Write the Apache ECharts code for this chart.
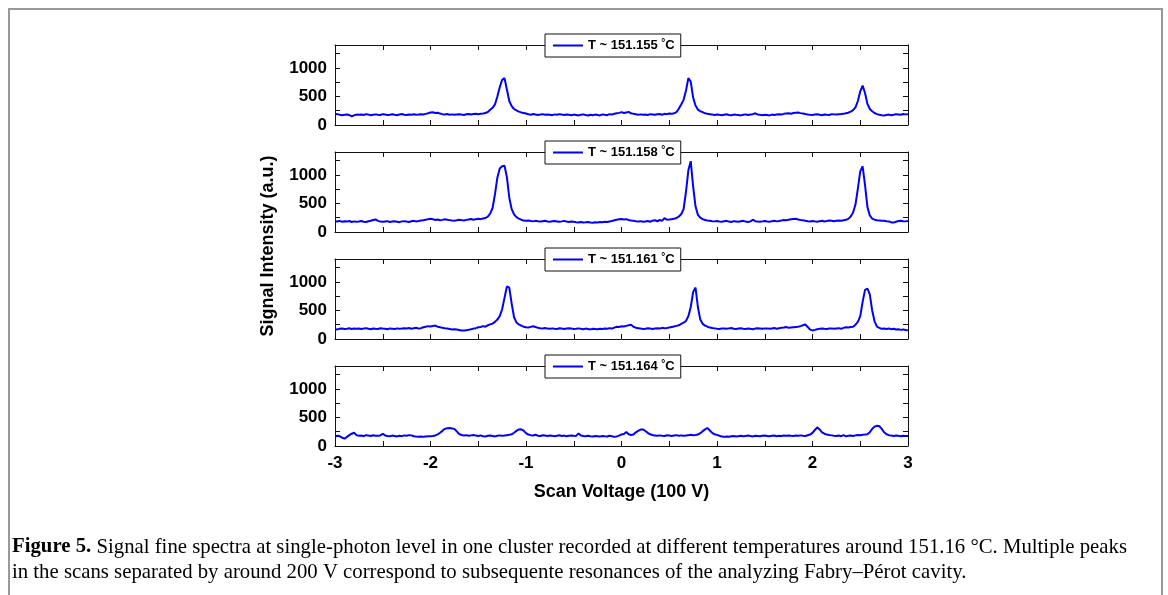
<!DOCTYPE html>
<html><head><meta charset="utf-8">
<script src="https://cdn.jsdelivr.net/npm/echarts@6/dist/echarts.min.js"></script>
<style>html,body{margin:0;padding:0;background:#fff}#c{width:1168px;height:595px}</style>
</head><body><div id="c"></div>
<script>
// ---- data ----
const seriesNames = ['T ~ 151.155 °C', 'T ~ 151.158 °C', 'T ~ 151.161 °C', 'T ~ 151.164 °C'];
const xTickLabels = [-3, -2, -1, 0, 1, 2, 3];
const yTickLabels = [0, 500, 1000];
const scanStart = -3, scanStep = 0.025;   // sampling grid of the scan (241 points, -3 .. 3)

const sig155 = [
195,190,180,172,178,185,175,150,170,182,
178,185,176,190,182,170,178,186,180,175,
190,182,175,180,188,178,172,185,192,180,
176,185,180,188,178,182,190,185,195,205,
218,222,210,215,200,190,185,192,180,186,
178,184,190,182,176,188,194,185,192,198,
190,196,200,210,228,265,300,360,500,660,
790,820,620,420,330,280,255,235,220,210,
200,188,180,192,185,176,182,190,178,185,
180,172,186,178,190,182,175,185,178,170,
182,176,168,180,186,174,165,178,170,182,
175,168,185,178,172,190,182,196,205,212,
225,210,220,230,205,195,188,180,186,178,
182,175,190,185,178,188,192,180,195,190,
200,195,205,225,285,360,440,600,820,760,
480,340,270,240,225,205,195,190,182,176,
185,178,172,180,188,176,170,182,178,175,
168,180,186,174,182,190,205,185,178,172,
180,175,168,182,176,185,190,182,195,200,
205,198,210,215,218,208,200,192,185,180,
176,182,188,178,172,185,180,176,190,186,
182,190,192,195,205,215,235,260,310,420,
590,690,560,370,280,240,210,190,178,172,
168,175,182,170,178,190,185,180,192,186,190];

const sig158 = [
190,185,195,178,188,182,192,176,186,180,
185,192,180,175,188,196,210,220,195,182,
178,185,190,176,182,188,180,172,186,190,
182,176,188,195,185,192,200,205,215,225,
232,225,210,218,205,212,222,215,208,200,
198,205,215,208,200,212,220,228,215,225,
232,225,235,245,270,320,420,660,950,1110,
1150,1160,960,600,400,310,260,235,215,200,
195,200,192,186,195,188,182,190,196,185,
180,188,192,185,178,186,195,182,176,185,
178,172,168,175,165,170,176,168,162,172,
168,175,170,180,176,185,192,205,215,222,
228,220,225,210,200,195,188,182,190,178,
185,192,180,198,205,188,210,195,242,215,
218,225,230,245,270,310,400,700,1080,1240,
800,450,300,250,225,210,200,195,190,186,
192,185,180,188,195,182,176,190,185,180,
188,195,182,176,186,215,190,182,178,186,
192,185,180,190,198,186,192,200,210,205,
215,222,228,232,220,210,205,198,190,185,
192,186,180,190,198,185,192,200,195,188,
195,200,198,205,215,230,270,340,480,760,
1060,1150,820,440,290,235,215,205,200,195,
198,190,185,168,165,180,192,198,190,186,192];

const sig161 = [
172,168,178,185,175,180,188,176,182,178,
185,176,182,190,178,172,185,180,176,188,
182,178,170,185,180,175,186,178,182,190,
185,192,180,188,196,182,190,205,215,225,
220,228,235,215,205,195,188,182,175,168,
172,165,158,150,148,155,162,170,182,190,
205,210,225,215,240,255,270,300,340,400,
520,720,920,900,620,380,290,255,235,215,
205,200,212,224,210,198,190,185,192,182,
178,186,180,175,188,182,176,185,190,182,
176,180,186,178,172,182,175,168,180,176,
172,180,176,185,178,190,182,200,215,210,
222,218,230,240,248,215,198,190,182,176,
180,188,182,176,185,190,182,195,188,192,
200,210,220,230,240,265,285,315,400,560,
820,900,560,340,265,235,215,200,192,186,
180,176,185,182,178,186,192,180,175,182,
188,180,176,185,178,172,182,190,185,178,
182,186,178,185,192,180,188,196,200,210,
195,200,205,210,215,225,240,253,210,165,
150,160,172,178,185,180,176,182,186,180,
185,190,178,195,205,200,210,215,250,300,
400,650,860,880,780,500,310,215,195,178,
182,176,185,170,178,165,172,160,168,158,155];

const sig164 = [
165,180,170,145,128,160,190,215,232,190,
178,185,172,190,182,176,188,180,178,185,
215,185,176,170,182,175,168,180,172,186,
178,190,186,170,165,162,168,160,165,170,
172,176,185,205,232,265,300,310,314,308,
300,255,210,192,185,190,178,186,192,182,
176,185,170,165,178,182,175,168,180,186,
178,182,190,195,205,232,265,290,292,270,
225,200,190,185,198,180,176,188,182,175,
185,178,172,180,188,176,182,170,178,185,
180,176,221,182,175,170,178,172,168,175,
172,168,176,170,165,178,172,160,168,182,
203,210,244,205,192,200,240,265,288,290,
262,230,205,192,185,178,186,180,175,188,
182,176,185,190,180,186,178,182,190,195,
188,192,200,225,260,290,315,270,230,205,
195,180,165,160,168,162,170,175,166,172,
178,170,176,182,174,168,180,176,172,178,
182,176,170,178,185,172,180,176,182,178,
185,180,176,182,178,186,180,175,188,200,
230,280,326,290,240,215,200,192,186,180,
176,185,172,190,168,178,182,176,186,192,
188,196,200,205,240,300,340,355,345,300,
240,205,190,182,176,185,178,172,180,176,174];

const signals = [sig155, sig158, sig161, sig164];

// ---- layout ----
const FONT = '"Liberation Sans", Arial, sans-serif';
const SERIF = '"Liberation Serif", "Times New Roman", serif';
const gridTops = [45, 152, 259, 366];
const gridH = 80, gridLeft = 335, gridW = 573;

const grids = gridTops.map(t => ({left: gridLeft, top: t, width: gridW, height: gridH, show: false}));
const xAxes = [], yAxes = [], series = [], legends = [];
const axisLine = {show: true, onZero: false, lineStyle: {color: '#111', width: 1}};
const tick = {show: true, inside: true, length: 5, lineStyle: {color: '#111', width: 1}};

gridTops.forEach((t, k) => {
  const last = k === gridTops.length - 1;
  const xBase = {type: 'value', gridIndex: k, min: -3, max: 3, interval: 0.5,
    axisLine, axisTick: tick, splitLine: {show: false}, minorTick: {show: false}};
  xAxes.push(Object.assign({}, xBase, {position: 'bottom',
    axisLabel: {show: last, margin: 9, color: '#000', fontSize: 17, fontWeight: 'bold', fontFamily: FONT,
      formatter: v => xTickLabels.includes(v) ? String(v) : ''},
    name: last ? 'Scan Voltage (100 V)' : '', nameLocation: 'middle', nameGap: 37,
    nameTextStyle: {color: '#000', fontSize: 18, fontWeight: 'bold', fontFamily: FONT}}));
  xAxes.push(Object.assign({}, xBase, {position: 'top', axisLabel: {show: false}}));
  const yBase = {type: 'value', gridIndex: k, min: 0, max: 1400, interval: 250,
    axisLine, axisTick: tick, splitLine: {show: false}};
  yAxes.push(Object.assign({}, yBase, {position: 'left',
    axisLabel: {show: true, margin: 8, color: '#000', fontSize: 17, fontWeight: 'bold', fontFamily: FONT,
      formatter: v => yTickLabels.includes(v) ? String(v) : ''}}));
  yAxes.push(Object.assign({}, yBase, {position: 'right', axisLabel: {show: false}}));
  series.push({
    name: seriesNames[k], type: 'line', xAxisIndex: 2 * k, yAxisIndex: 2 * k,
    symbol: 'none', showSymbol: false, smooth: false, animation: false,
    lineStyle: {color: '#0000ff', width: 2}, itemStyle: {color: '#0000ff'},
    data: signals[k].map((v, i) => [scanStart + scanStep * i, v])
  });
  legends.push({
    data: [seriesNames[k]], left: 545, top: t - 11, orient: 'horizontal',
    backgroundColor: '#fff', borderColor: '#111', borderWidth: 1, borderRadius: 0,
    padding: [4, 6, 4, 7], itemWidth: 30, itemHeight: 14, itemGap: 5,
    itemStyle: {opacity: 0}, lineStyle: {color: '#0000ff', width: 2},
    formatter: n => n.replace('°C', '{d|°}C'),
    textStyle: {color: '#000', fontSize: 13, fontWeight: 'bold', fontFamily: FONT, lineHeight: 15,
      rich: {d: {fontSize: 10, fontWeight: 'bold', fontFamily: FONT, lineHeight: 8, verticalAlign: 'top'}}},
    selectedMode: false
  });
});

// caption width fitting
const cap1b = 'Figure 5.';
const cap1 = ' Signal fine spectra at single-photon level in one cluster recorded at different temperatures around 151.16 °C. Multiple peaks';
const cap2 = 'in the scans separated by around 200 V correspond to subsequente resonances of the analyzing Fabry–Pérot cavity.';
const capSize = 21;
const ctx = document.createElement('canvas').getContext('2d');
ctx.font = 'bold ' + capSize + 'px ' + SERIF;
const wb = ctx.measureText(cap1b).width;
ctx.font = capSize + 'px ' + SERIF;
const wn = ctx.measureText(cap1).width;
const capScale = (1127 - 12) / (wb + wn);
const capRich = {
  b: {font: 'bold ' + capSize + 'px ' + SERIF, fill: '#000', lineHeight: 24},
  n: {font: capSize + 'px ' + SERIF, fill: '#000', lineHeight: 24}
};

const chart = echarts.init(document.getElementById('c'), null, {renderer: 'canvas'});
chart.setOption({
  backgroundColor: '#fff',
  animation: false,
  grid: grids, xAxis: xAxes, yAxis: yAxes, series, legend: legends,
  graphic: [
    {type: 'rect', shape: {x: 9, y: 9, width: 1153, height: 620}, style: {fill: 'none', stroke: '#999', lineWidth: 2}, silent: true},
    {type: 'text', x: 268, y: 246, rotation: Math.PI / 2,
      style: {text: 'Signal Intensity (a.u.)', fill: '#000', font: 'bold 18px ' + FONT, textAlign: 'center', textVerticalAlign: 'middle'}},
    {type: 'text', x: 12, y: 547, scaleX: capScale,
      style: {text: '{b|' + cap1b + '}{n|' + cap1 + '}', fill: '#000', font: capSize + 'px ' + SERIF,
        textVerticalAlign: 'middle', rich: capRich}},
    {type: 'text', x: 12, y: 572, scaleX: capScale,
      style: {text: '{n|' + cap2 + '}', fill: '#000', font: capSize + 'px ' + SERIF,
        textVerticalAlign: 'middle', rich: capRich}}
  ]
});
</script></body></html>
